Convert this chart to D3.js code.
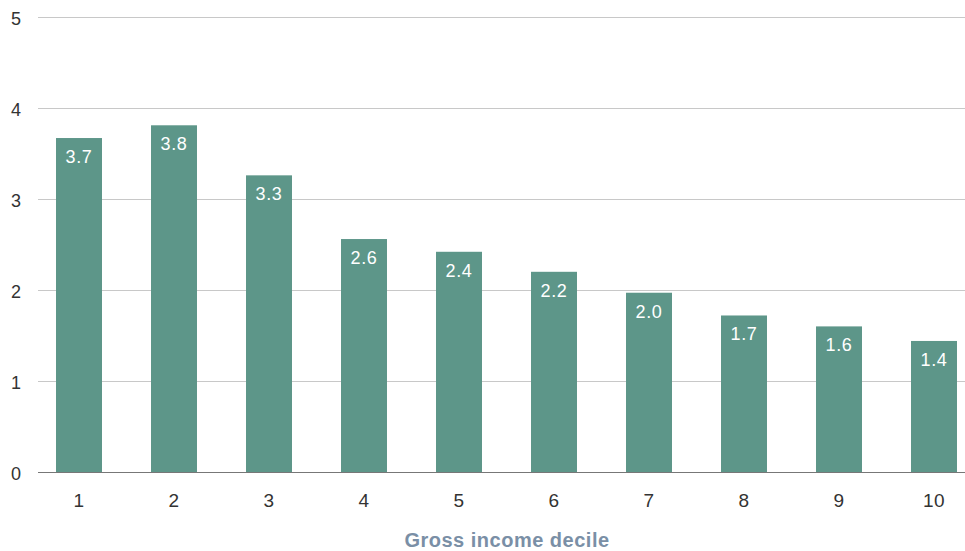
<!DOCTYPE html>
<html><head><meta charset="utf-8">
<script src="https://cdn.jsdelivr.net/npm/d3@7"></script>
<style>body{margin:0;background:#fff;}svg{display:block;font-family:"Liberation Sans",Arial,sans-serif;}</style>
</head><body>
<svg id="c" width="965" height="551"></svg>
<script>
const categories = ["1","2","3","4","5","6","7","8","9","10"];
const values = [3.67, 3.81, 3.26, 2.56, 2.42, 2.20, 1.97, 1.72, 1.60, 1.44];
const yTicks = [0,1,2,3,4,5];
const xTitle = "Gross income decile";

const svg = d3.select("#c");
const x = d3.scaleBand().domain(categories).range([31.5, 981.5]).paddingInner(0.516).paddingOuter(0.258);
const y = d3.scaleLinear().domain([0,5]).range([472,17]);

// gridlines
svg.append("g").selectAll("line").data(yTicks.filter(d=>d>0)).join("line")
  .attr("x1",38).attr("x2",965).attr("y1",d=>y(d)+0.5).attr("y2",d=>y(d)+0.5)
  .attr("stroke","#c8c8c8").attr("stroke-width",1);

// y tick labels
svg.append("g").selectAll("text").data(yTicks).join("text")
  .attr("x",16).attr("y",d=>y(d)+7.5).attr("text-anchor","middle")
  .attr("font-size",18).attr("fill","#333").text(d=>d);

// bars
svg.append("g").selectAll("rect").data(values).join("rect")
  .attr("x",(d,i)=>x(categories[i])).attr("width",x.bandwidth())
  .attr("y",d=>y(d)).attr("height",d=>y(0)-y(d)).attr("fill","#5d9689");

// value labels
svg.append("g").selectAll("text").data(values).join("text")
  .attr("x",(d,i)=>x(categories[i])+x.bandwidth()/2).attr("y",d=>y(d)+25)
  .attr("text-anchor","middle").attr("font-size",18).attr("letter-spacing",0.6).attr("fill","#fff")
  .text(d=>d3.format(".1f")(d));

// x axis line
svg.append("line").attr("x1",38).attr("x2",965).attr("y1",y(0)+0.5).attr("y2",y(0)+0.5)
  .attr("stroke","#777").attr("stroke-width",1.2);

// x tick labels
svg.append("g").selectAll("text").data(categories).join("text")
  .attr("x",d=>x(d)+x.bandwidth()/2).attr("y",507).attr("text-anchor","middle")
  .attr("font-size",19).attr("letter-spacing",0.5).attr("fill","#333").text(d=>d);

// x title
svg.append("text").attr("x",507).attr("y",547).attr("text-anchor","middle")
  .attr("font-size",20).attr("letter-spacing",0.5).attr("font-weight","bold").attr("fill","#7a8fa6").text(xTitle);
</script>
</body></html>
